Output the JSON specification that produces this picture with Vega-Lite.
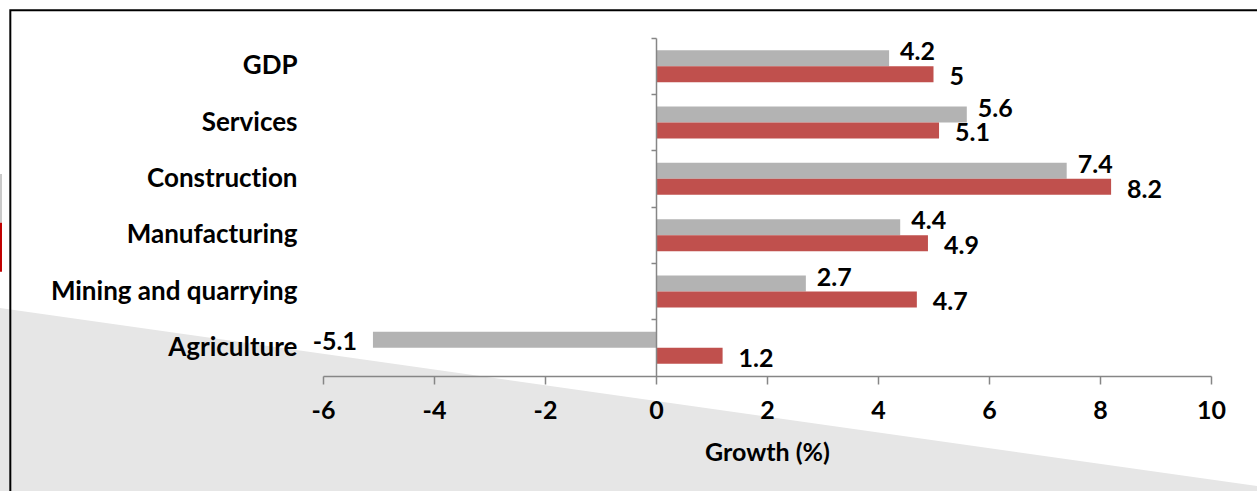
{
  "$schema": "https://vega.github.io/schema/vega-lite/v6.json",
  "width": 888,
  "height": 338,
  "autosize": {"type": "none"},
  "padding": {"left": 323, "top": 38, "right": 46, "bottom": 115},
  "background": "white",
  "config": {
    "view": {"stroke": null},
    "font": "Lato"
  },
  "datasets": {
    "growth": [
      {"sector": "GDP", "series": "prior", "value": 4.2},
      {"sector": "GDP", "series": "latest", "value": 5},
      {"sector": "Services", "series": "prior", "value": 5.6},
      {"sector": "Services", "series": "latest", "value": 5.1},
      {"sector": "Construction", "series": "prior", "value": 7.4},
      {"sector": "Construction", "series": "latest", "value": 8.2},
      {"sector": "Manufacturing", "series": "prior", "value": 4.4},
      {"sector": "Manufacturing", "series": "latest", "value": 4.9},
      {"sector": "Mining and quarrying", "series": "prior", "value": 2.7},
      {"sector": "Mining and quarrying", "series": "latest", "value": 4.7},
      {"sector": "Agriculture", "series": "prior", "value": -5.1},
      {"sector": "Agriculture", "series": "latest", "value": 1.2}
    ],
    "shade": [
      {"x": -12, "top": 4.768, "bottom": 8.3},
      {"x": 11, "top": 7.977, "bottom": 8.3}
    ],
    "swatch": [
      {"x": -12, "x2": -11.784, "y": 2.414, "y2": 3.279, "series": "prior"},
      {"x": -12, "x2": -11.784, "y": 3.279, "y2": 4.149, "series": "latest"}
    ],
    "frame": [
      {"x": -11.634, "y": 8.3, "order": 1},
      {"x": -11.634, "y": -0.492, "order": 2},
      {"x": 11, "y": -0.492, "order": 3}
    ]
  },
  "layer": [
    {
      "layer": [
        {
          "data": {"name": "shade"},
          "mark": {"type": "area", "color": "#e6e6e6"},
          "encoding": {
            "x": {"field": "x", "type": "quantitative", "title": "Growth (%)", "scale": {"domain": [-6, 10], "nice": false, "zero": false}},
            "y": {"field": "top", "type": "quantitative", "axis": null, "scale": {"domain": [0, 6], "reverse": true, "nice": false, "zero": false}},
            "y2": {"field": "bottom"}
          }
        },
        {
          "data": {"name": "swatch"},
          "mark": {"type": "rect"},
          "encoding": {
            "x": {"field": "x", "type": "quantitative", "title": "Growth (%)", "scale": {"domain": [-6, 10], "nice": false, "zero": false}},
            "x2": {"field": "x2"},
            "y": {"field": "y", "type": "quantitative", "axis": null, "scale": {"domain": [0, 6], "reverse": true, "nice": false, "zero": false}},
            "y2": {"field": "y2"},
            "color": {"field": "series", "type": "nominal", "legend": null, "scale": {"domain": ["prior", "latest"], "range": ["#c9c9c9", "#c00000"]}}
          }
        },
        {
          "data": {"name": "frame"},
          "mark": {"type": "line", "color": "black", "strokeWidth": 2},
          "encoding": {
            "x": {"field": "x", "type": "quantitative", "title": "Growth (%)", "scale": {"domain": [-6, 10], "nice": false, "zero": false}},
            "y": {"field": "y", "type": "quantitative", "axis": null, "scale": {"domain": [0, 6], "reverse": true, "nice": false, "zero": false}},
            "order": {"field": "order", "type": "quantitative"}
          }
        }
      ]
    },
    {
      "data": {"name": "growth"},
      "layer": [
        {
          "mark": {"type": "bar"},
          "encoding": {
            "y": {
              "field": "sector", "type": "nominal", "sort": null,
              "scale": {"paddingInner": 0.432, "paddingOuter": 0.216},
              "axis": {
                "orient": "left", "offset": -333, "labels": false, "title": null, "zindex": 2, "grid": false,
                "domain": true, "domainColor": "#868686", "domainWidth": 1.5,
                "ticks": true, "bandPosition": -0.38, "tickSize": 5, "tickColor": "#868686", "tickWidth": 1.5
              }
            },
            "yOffset": {"field": "series", "type": "nominal", "scale": {"domain": ["prior", "latest"]}},
            "x": {
              "field": "value", "type": "quantitative", "title": "Growth (%)",
              "scale": {"domain": [-6, 10], "nice": false, "zero": false},
              "axis": {
                "zindex": 2, "grid": false,
                "values": [-6, -4, -2, 0, 2, 4, 6, 8, 10],
                "labelExpr": "'' + datum.value",
                "labelFlush": false,
                "domainColor": "#868686", "domainWidth": 1.5,
                "tickColor": "#868686", "tickWidth": 1.5, "tickSize": 8,
                "labelFont": "Lato", "labelFontSize": 25, "labelFontWeight": "bold", "labelColor": "black", "labelPadding": 14,
                "titleFont": "Lato", "titleFontSize": 25, "titleFontWeight": "bold", "titleColor": "black", "titlePadding": 17
              }
            },
            "color": {"field": "series", "type": "nominal", "legend": null, "scale": {"domain": ["prior", "latest"], "range": ["#b3b3b3", "#c0504d"]}}
          }
        },
        {
          "transform": [{"filter": "datum.series == 'prior' && datum.value >= 0"}],
          "mark": {"type": "text", "align": "left", "baseline": "middle", "dx": 11, "dy": -6, "font": "Lato", "fontSize": 25, "fontWeight": "bold", "color": "black"},
          "encoding": {
            "y": {"field": "sector", "type": "nominal", "sort": null, "scale": {"paddingInner": 0.432, "paddingOuter": 0.216}, "axis": null},
            "yOffset": {"field": "series", "type": "nominal", "scale": {"domain": ["prior", "latest"]}},
            "x": {"field": "value", "type": "quantitative", "title": "Growth (%)", "scale": {"domain": [-6, 10], "nice": false, "zero": false}},
            "text": {"field": "value", "type": "nominal"}
          }
        },
        {
          "transform": [{"filter": "datum.series == 'prior' && datum.value < 0"}],
          "mark": {"type": "text", "align": "right", "baseline": "middle", "dx": -16, "dy": 2, "font": "Lato", "fontSize": 25, "fontWeight": "bold", "color": "black"},
          "encoding": {
            "y": {"field": "sector", "type": "nominal", "sort": null, "scale": {"paddingInner": 0.432, "paddingOuter": 0.216}, "axis": null},
            "yOffset": {"field": "series", "type": "nominal", "scale": {"domain": ["prior", "latest"]}},
            "x": {"field": "value", "type": "quantitative", "title": "Growth (%)", "scale": {"domain": [-6, 10], "nice": false, "zero": false}},
            "text": {"field": "value", "type": "nominal"}
          }
        },
        {
          "transform": [{"filter": "datum.series == 'latest'"}],
          "mark": {"type": "text", "align": "left", "baseline": "middle", "dx": 16, "dy": 3, "font": "Lato", "fontSize": 25, "fontWeight": "bold", "color": "black"},
          "encoding": {
            "y": {
              "field": "sector", "type": "nominal", "sort": null,
              "scale": {"paddingInner": 0.432, "paddingOuter": 0.216},
              "axis": {
                "orient": "left", "title": null, "domain": false, "ticks": false, "tickSize": 0, "zindex": 2, "grid": false,
                "labelPadding": 26, "labelLimit": 0,
                "labelExpr": "replace(datum.label, 'ti', 't\u200ci')",
                "labelFont": "Lato", "labelFontSize": 26, "labelFontWeight": "bold", "labelColor": "black"
              }
            },
            "yOffset": {"field": "series", "type": "nominal", "scale": {"domain": ["prior", "latest"]}},
            "x": {"field": "value", "type": "quantitative", "title": "Growth (%)", "scale": {"domain": [-6, 10], "nice": false, "zero": false}},
            "text": {"field": "value", "type": "nominal"}
          }
        }
      ],
      "resolve": {"axis": {"y": "independent"}}
    }
  ],
  "resolve": {"scale": {"y": "independent", "color": "independent"}, "axis": {"y": "independent"}}
}
